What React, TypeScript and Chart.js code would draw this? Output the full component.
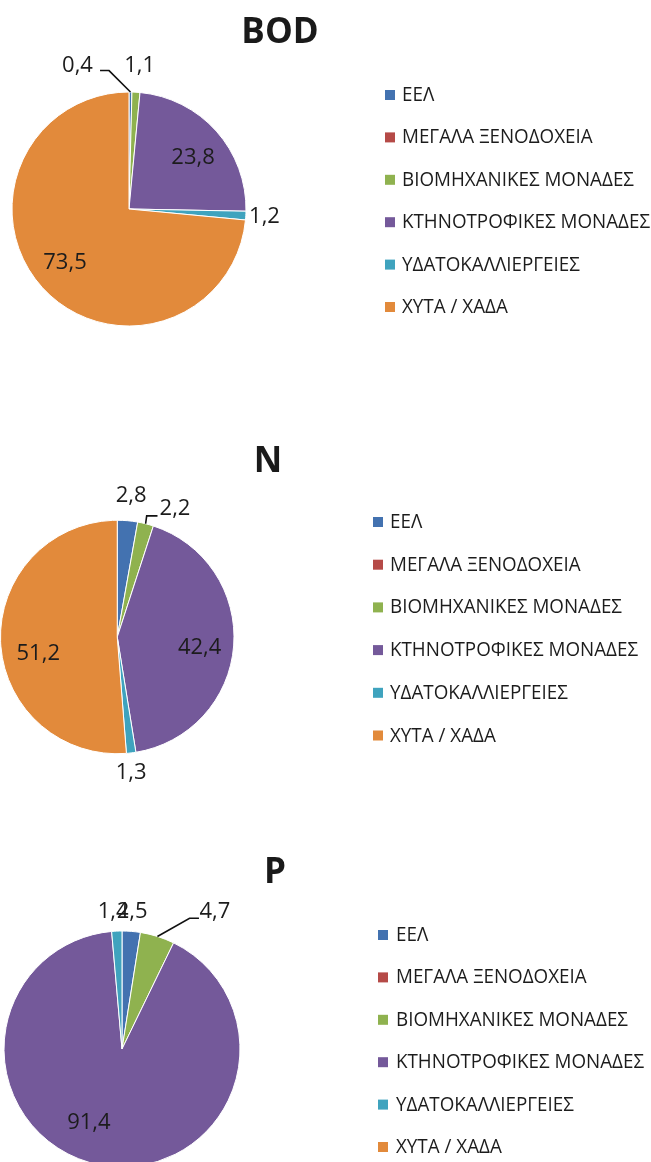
import React, { useEffect, useRef } from "react";
import { Chart, registerables } from "chart.js";

Chart.register(...registerables);

// ---- data ----
const categories = [
  "ΕΕΛ",
  "ΜΕΓΑΛΑ ΞΕΝΟΔΟΧΕΙΑ",
  "ΒΙΟΜΗΧΑΝΙΚΕΣ ΜΟΝΑΔΕΣ",
  "ΚΤΗΝΟΤΡΟΦΙΚΕΣ ΜΟΝΑΔΕΣ",
  "ΥΔΑΤΟΚΑΛΛΙΕΡΓΕΙΕΣ",
  "ΧΥΤΑ / ΧΑΔΑ",
];
const chartTitles = ["BOD", "N", "P"];
const bodValues = [0.4, 0, 1.1, 23.8, 1.2, 73.5];
const nValues = [2.8, 0, 2.2, 42.4, 1.3, 51.2];
const pValues = [2.5, 0, 4.7, 91.4, 1.4, 0];
const seriesValues = [bodValues, nValues, pValues];

// ---- styles ----
const sliceColors = ["#4372B0", "#B54A47", "#8FB24F", "#74599A", "#3FA3BE", "#E28A3B"];
const FONT = '"Open Sans", "Noto Sans", "DejaVu Sans", sans-serif';
const TEXT = "#1c1c1c";

type Placement = { r: number; off: number; leader?: [number, number, number, number] } | null;
type Layout = {
  top: number; height: number; cx: number; cy: number; R: number;
  titleX: number; titleY: number; legSq: number; legTx: number; legY: number; legStep: number;
  place: Placement[];
};

const layouts: Layout[] = [
  {
    top: 0, height: 415, cx: 129, cy: 209, R: 117,
    titleX: 280, titleY: 43, legSq: 385, legTx: 402, legY: 101, legStep: 42.4,
    place: [
      { r: 1.3, off: -20.5, leader: [22.5, 4.7, 31.5, 4.7] },
      null,
      { r: 1.226, off: 0.8 },
      { r: 0.7, off: 3.2 },
      { r: 1.16, off: 0.1 },
      { r: 0.713, off: 2.4 },
    ],
  },
  {
    top: 415, height: 415, cx: 117, cy: 222, R: 117,
    titleX: 268, titleY: 57, legSq: 373, legTx: 390, legY: 113, legStep: 42.7,
    place: [
      { r: 1.214, off: 0.6 },
      null,
      { r: 1.204, off: 10.2, leader: [-17.5, 7, -28.3, 7] },
      { r: 0.712, off: 3.1 },
      { r: 1.172, off: 1.0 },
      { r: 0.692, off: -9.8 },
    ],
  },
  {
    top: 830, height: 400, cx: 122, cy: 219, R: 118,
    titleX: 275, titleY: 53, legSq: 378, legTx: 396, legY: 111, legStep: 42.4,
    place: [
      { r: 1.167, off: -0.3 },
      null,
      { r: 1.403, off: 16.7, leader: [-16, 6.3, -25.4, 6.3] },
      { r: 0.683, off: 13.8 },
      { r: 1.166, off: -1.2 },
      null,
    ],
  },
];

const LEGEND_SCALE_X = 0.94;

const fmt = (v: number) => v.toFixed(1).replace(".", ",");

function makeDecor(idx: number) {
  const L = layouts[idx];
  return {
    id: "decor" + idx,
    afterDraw(chart: any) {
      const ctx = chart.ctx as CanvasRenderingContext2D;
      const meta = chart.getDatasetMeta(0);
      const values = seriesValues[idx];
      ctx.save();
      // data labels
      ctx.font = `22px ${FONT}`;
      ctx.fillStyle = TEXT;
      ctx.textAlign = "center";
      ctx.textBaseline = "middle";
      meta.data.forEach((arc: any, i: number) => {
        const p = L.place[i];
        if (!p || values[i] === 0) return;
        const { x, y, startAngle, endAngle, outerRadius } = arc.getProps(
          ["x", "y", "startAngle", "endAngle", "outerRadius"], true
        );
        const mid = (startAngle + endAngle) / 2;
        const a = mid + (p.off * Math.PI) / 180;
        const lx = x + Math.cos(a) * p.r * outerRadius;
        const ly = y + Math.sin(a) * p.r * outerRadius;
        if (p.leader) {
          const [sx, sy, ex, ey] = p.leader;
          ctx.beginPath();
          ctx.strokeStyle = "#111";
          ctx.lineWidth = 1.6;
          ctx.moveTo(lx + sx, ly + sy);
          ctx.lineTo(lx + ex, ly + ey);
          ctx.lineTo(x + Math.cos(mid) * outerRadius, y + Math.sin(mid) * outerRadius);
          ctx.stroke();
        }
        ctx.fillText(fmt(values[i]), lx, ly);
      });
      // title
      ctx.font = `bold 35px ${FONT}`;
      ctx.fillStyle = "#1a1a1a";
      ctx.textAlign = "center";
      ctx.textBaseline = "alphabetic";
      ctx.fillText(chartTitles[idx], L.titleX, L.titleY);
      // legend
      ctx.font = `20px ${FONT}`;
      ctx.textAlign = "left";
      categories.forEach((c, i) => {
        const by = L.legY + i * L.legStep;
        ctx.fillStyle = sliceColors[i];
        ctx.fillRect(L.legSq, by - 11, 10, 10);
        ctx.fillStyle = TEXT;
        ctx.save();
        ctx.translate(L.legTx, by);
        ctx.scale(LEGEND_SCALE_X, 1);
        ctx.fillText(c, 0, 0);
        ctx.restore();
      });
      ctx.restore();
    },
  };
}

function PieBlock({ idx }: { idx: number }) {
  const ref = useRef<HTMLCanvasElement>(null);
  const L = layouts[idx];
  useEffect(() => {
    if (!ref.current) return;
    const W = 651;
    const chart = new Chart(ref.current, {
      type: "pie",
      data: {
        labels: categories,
        datasets: [
          {
            data: seriesValues[idx],
            backgroundColor: sliceColors,
            borderColor: "#ffffff",
            borderWidth: 1,
          },
        ],
      },
      options: {
        responsive: false,
        animation: false,
        devicePixelRatio: 1,
        layout: {
          padding: {
            left: L.cx - L.R - 0.5,
            right: W - (L.cx + L.R) - 0.5,
            top: L.cy - L.R - 0.5,
            bottom: L.height - (L.cy + L.R) - 0.5,
          },
        },
        plugins: {
          legend: { display: false },
          title: { display: false },
          tooltip: { enabled: false },
        },
      },
      plugins: [makeDecor(idx)],
    } as any);
    return () => chart.destroy();
  }, [idx]);
  return (
    <canvas
      ref={ref}
      width={651}
      height={L.height}
      style={{ position: "absolute", left: 0, top: L.top, width: 651, height: L.height }}
    />
  );
}

export default function App() {
  return (
    <div
      style={{
        position: "absolute",
        left: 0,
        top: 0,
        width: 651,
        height: 1162,
        overflow: "hidden",
        background: "#ffffff",
      }}
    >
      {layouts.map((_, i) => (
        <PieBlock key={i} idx={i} />
      ))}
    </div>
  );
}
